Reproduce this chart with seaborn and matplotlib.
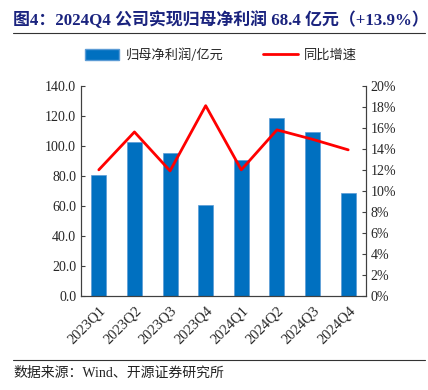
import seaborn as sns
import matplotlib.pyplot as plt
import pandas as pd
from matplotlib.ticker import FuncFormatter, FixedLocator
from matplotlib.patches import Patch
from matplotlib.lines import Line2D

# ---- data ----
quarters = ['2023Q1', '2023Q2', '2023Q3', '2023Q4',
            '2024Q1', '2024Q2', '2024Q3', '2024Q4']
net_profit = [80.7, 102.3, 95.2, 60.4, 90.5, 118.3, 109.2, 68.4]   # 亿元
yoy_growth = [12.0, 15.6, 11.9, 18.1, 12.0, 15.8, 14.9, 13.9]      # %

df = pd.DataFrame({'quarter': quarters, 'profit': net_profit, 'growth': yoy_growth})
df['pos'] = range(len(df))

sns.set_style('white')
plt.rcParams['font.family'] = ['Liberation Serif', 'Noto Sans CJK SC']
cjk = ['Noto Sans CJK SC', 'Liberation Serif']

fig = plt.figure(figsize=(4.28, 3.90), dpi=100)
ax = fig.add_axes([81 / 428, 94 / 390, 285 / 428, 210.3 / 390])

sns.barplot(data=df, x='quarter', y='profit', color='#0070C0', width=0.42,
            saturation=1, edgecolor='#5B9BD5', linewidth=0.5, ax=ax)
ax.set_ylim(0, 140)
ax.set_yticks(range(0, 141, 20))
ax.yaxis.set_major_formatter(FuncFormatter(lambda v, p: f'{v:.1f}'))
ax.set_xlim(-0.5, len(quarters) - 0.5)
ax.set_xlabel('')
ax.set_ylabel('')

ax2 = ax.twinx()
sns.lineplot(data=df, x='pos', y='growth', color='#FF0000', linewidth=2,
             sort=False, ax=ax2)
ax2.set_ylim(0, 20)
ax2.set_yticks(range(0, 21, 2))
ax2.yaxis.set_major_formatter(FuncFormatter(lambda v, p: f'{v:.0f}%'))
ax2.set_ylabel('')
ax2.set_xlabel('')
ax2.set_xlim(-0.5, len(quarters) - 0.5)

# x ticks: labels at centres, tick marks on category borders
ax.set_xticks(range(len(quarters)))
ax.set_xticklabels(quarters, rotation=45, ha='right', rotation_mode='anchor')
ax.xaxis.set_minor_locator(FixedLocator([i + 0.5 for i in range(-1, len(quarters))]))
ax.tick_params(axis='x', which='major', length=0, labelsize=10.5, pad=6)
ax.tick_params(axis='x', which='minor', direction='in', length=3, color='#404040', width=0.8)
ax.tick_params(axis='y', direction='in', length=3, labelsize=10, color='#404040', width=0.8)
ax2.tick_params(axis='y', direction='in', length=3, labelsize=10, color='#404040', width=0.8)
ax2.tick_params(axis='x', which='both', length=0)

for a in (ax, ax2):
    a.spines['top'].set_visible(False)
    for s in ('left', 'right', 'bottom'):
        a.spines[s].set_color('#404040')
        a.spines[s].set_linewidth(0.8)
    a.grid(False)

# legend
handles = [Patch(facecolor='#0070C0', edgecolor='#5B9BD5'),
           Line2D([0], [0], color='#FF0000', linewidth=2)]
fig.legend(handles, ['归母净利润/亿元', '同比增速'], loc='center',
           bbox_to_anchor=(221 / 428, 1 - 55 / 390), ncol=2, frameon=False,
           prop={'family': cjk, 'size': 9.5}, handlelength=2.6, handleheight=0.9,
           columnspacing=3.0, handletextpad=0.5)

# title and source
fig.text(13 / 428, 1 - 20 / 390, '图4：2024Q4 公司实现归母净利润 68.4 亿元（+13.9%）',
         fontsize=12.2, fontweight='bold', color='#1A237E', va='center', ha='left')
fig.add_artist(Line2D([13 / 428, 425 / 428], [1 - 32.5 / 390] * 2, color='#333333', linewidth=0.8))
fig.add_artist(Line2D([13 / 428, 425 / 428], [1 - 360 / 390] * 2, color='#333333', linewidth=0.8))
fig.text(13 / 428, 1 - 373 / 390, '数据来源：Wind、开源证券研究所',
         fontsize=10, color='#222222', va='center', ha='left')

fig.savefig('out.png', dpi=100)
